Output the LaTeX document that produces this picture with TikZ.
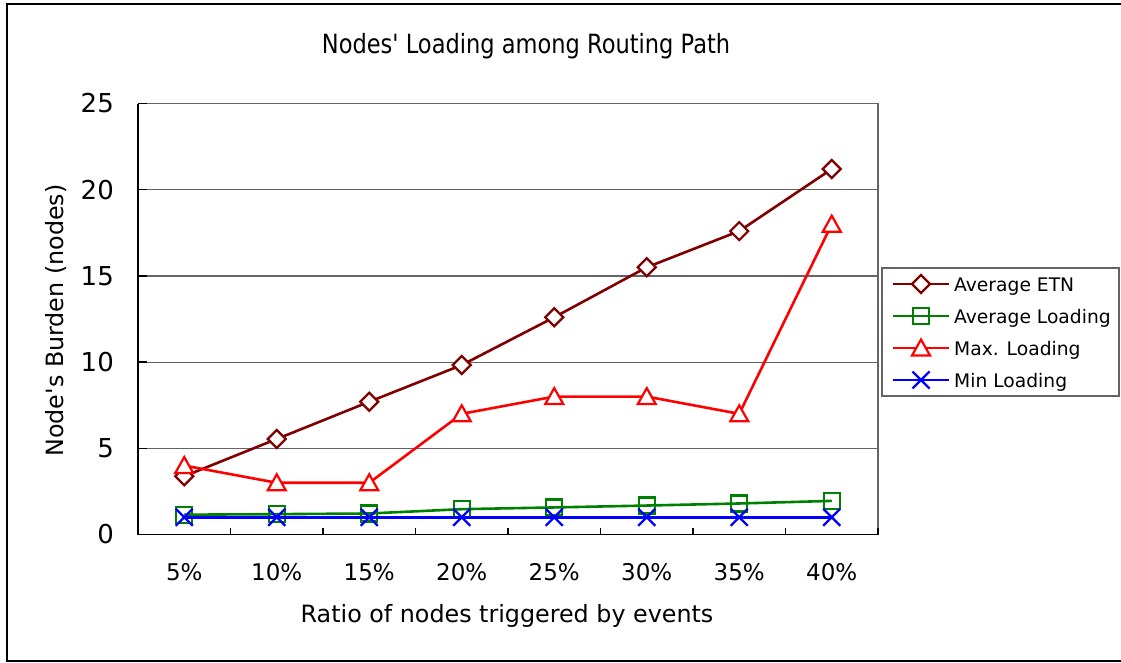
\documentclass[tikz,border=0pt]{standalone}
\usepackage{fontspec}
\newfontfamily\chartfont{DejaVu Sans}
\newfontfamily\headfont[FakeStretch=0.85]{DejaVu Sans}
\usetikzlibrary{calc}
\begin{document}
\definecolor{cEtn}{RGB}{128,0,0}
\definecolor{cAvg}{RGB}{0,128,0}
\definecolor{cMax}{RGB}{255,0,0}
\definecolor{cMin}{RGB}{0,0,255}
\definecolor{gridgray}{RGB}{100,100,100}
\begin{tikzpicture}[x=1pt,y=-1pt,
  titlefont/.style={font=\headfont\fontsize{26.5}{30}\selectfont},
  axtitlefont/.style={font=\chartfont\fontsize{23.8}{28}\selectfont},
  ytickfont/.style={font=\chartfont\fontsize{26}{30}\selectfont},
  xtickfont/.style={font=\chartfont\fontsize{23}{26}\selectfont},
  legfont/.style={font=\chartfont\fontsize{18.7}{22}\selectfont},
  gridline/.style={draw=gridgray,line width=1.2pt},
  axisline/.style={draw=black,line width=1.4pt},
  series/.style={line width=2.6pt,line join=round},
  mkstroke/.style={line width=2.2pt,line join=miter},
  mdiamond/.pic={\draw[mkstroke,fill=white] (-9pt,0) -- (0,9pt) -- (9pt,0) -- (0,-9pt) -- cycle;},
  msquare/.pic={\draw[mkstroke] (-8pt,-8pt) rectangle (8pt,8pt);},
  mtriangle/.pic={\draw[mkstroke,fill=white] (-9pt,-7.5pt) -- (0,8.5pt) -- (9pt,-7.5pt) -- cycle;},
  mcross/.pic={\draw[mkstroke] (-8.5pt,-8.5pt) -- (8.5pt,8.5pt) (-8.5pt,8.5pt) -- (8.5pt,-8.5pt);}
]
\useasboundingbox (0,0) rectangle (1121,662);
\fill[white] (0,0) rectangle (1121,662);

% outer chart frame
\draw[line width=1.8pt] (1135,661) -- (7,661) -- (7,4) -- (1135,4);

% titles
\node[titlefont,anchor=base,inner sep=0] (title) at (526,53.5) {Nodes' Loading among Routing Path};
\node[axtitlefont,anchor=base,inner sep=0] (xtitle) at (507,622) {Ratio of nodes triggered by events};
\node[axtitlefont,rotate=90,inner sep=0] (ytitle) at (56,320.5) {Node's Burden (nodes)};

% plot area
\begin{scope}[shift={(138,534.5)},x=92.5pt,y=17.24pt]
  \foreach \g in {5,10,15,20} \draw[gridline] (0,\g) -- (8,\g);
  \draw[gridline] (0,25) -- (8,25) -- (8,0);
  \foreach \g in {0,5,...,25} {
    \draw[axisline] (0,\g) -- ++(9pt,0);
    \node[ytickfont,anchor=east,inner sep=0] (yt\g) at ([xshift=-24pt]0,\g) {\g};
  }
  \foreach \k in {1,...,8} \draw[axisline] (\k,0) -- ++(0,7pt);
  \draw[axisline] (0,25) -- (0,0) -- (8,0);
  \foreach \lab [count=\i] in {5\%,10\%,15\%,20\%,25\%,30\%,35\%,40\%}
    \node[xtickfont,anchor=base,inner sep=0] (xt\i) at ([yshift=-45.5pt]\i-0.5,0) {\lab};

  % data points
  \foreach \v [count=\i] in {3.38,5.54,7.7,9.83,12.6,15.5,17.6,21.2}
    \coordinate (etn\i) at (\i-0.5,\v);
  \foreach \v [count=\i] in {1.15,1.18,1.22,1.47,1.57,1.68,1.8,1.95}
    \coordinate (avg\i) at (\i-0.5,\v);
  \foreach \v [count=\i] in {4,3,3,7,8,8,7,18}
    \coordinate (max\i) at (\i-0.5,\v);
  \foreach \v [count=\i] in {1,1,1,1,1,1,1,1}
    \coordinate (min\i) at (\i-0.5,\v);

  % series
  \draw[series,cEtn] (etn1) \foreach \i in {2,...,8} {-- (etn\i)};
  \foreach \i in {1,...,8} \pic[cEtn] at (etn\i) {mdiamond};
  \draw[series,cAvg] (avg1) \foreach \i in {2,...,8} {-- (avg\i)};
  \foreach \i in {1,...,8} \pic[cAvg] at (avg\i) {msquare};
  \draw[series,cMax] (max1) \foreach \i in {2,...,8} {-- (max\i)};
  \foreach \i in {1,...,8} \pic[cMax] at (max\i) {mtriangle};
  \draw[series,cMin] (min1) \foreach \i in {2,...,8} {-- (min\i)};
  \foreach \i in {1,...,8} \pic[cMin] at (min\i) {mcross};
\end{scope}

% legend
\draw[draw=gridgray,line width=1.2pt,fill=white] (882,268) rectangle (1119,396);
\foreach \y/\c/\m/\t [count=\i] in {284/cEtn/mdiamond/Average ETN,316/cAvg/msquare/Average Loading,348/cMax/mtriangle/Max. Loading,380/cMin/mcross/Min Loading} {
  \coordinate (la\i) at (893,\y);
  \coordinate (lb\i) at (949,\y);
  \draw[series,\c] (la\i) -- (lb\i);
  \pic[\c] at ($(la\i)!0.5!(lb\i)$) {\m};
  \node[legfont,anchor=base west,inner sep=0] (lt\i) at (954,\y+7) {\t};
}
\end{tikzpicture}
\end{document}
